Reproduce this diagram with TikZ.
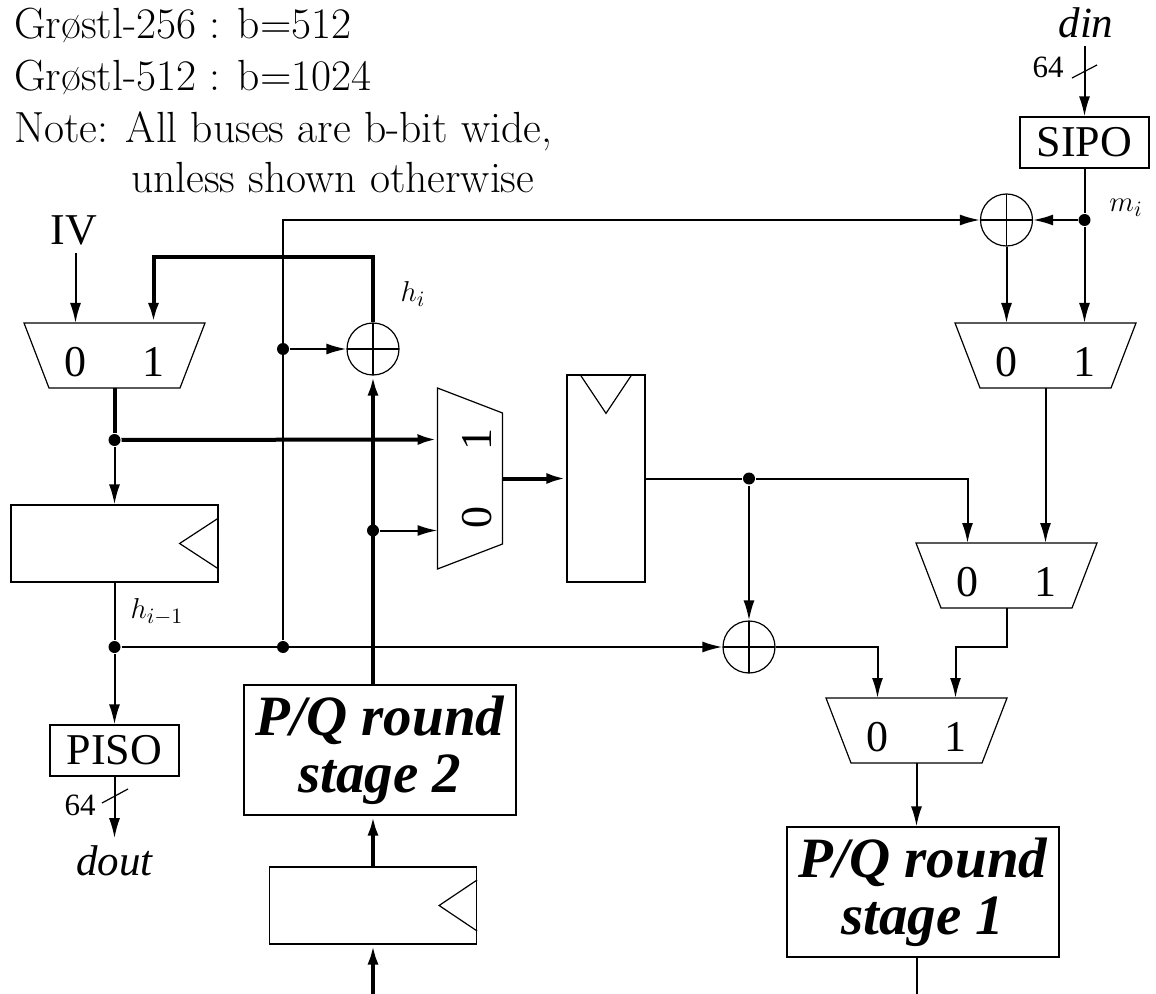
\documentclass[tikz,border=0pt]{standalone}
\usepackage{fontspec}
\newfontfamily\tms{Liberation Serif}
\usetikzlibrary{arrows.meta}
\tikzset{
  box/.style={draw, line width=0.6pt, inner sep=0pt},
  reg/.style={box, minimum width=103.5pt, minimum height=38.5pt},
  conv/.style={box, minimum width=64.5pt, minimum height=25.5pt, font=\tms\fontsize{22}{22}\selectfont},
  stagebox/.style={box, minimum width=136pt, minimum height=65pt, align=center,
    font=\tms\bfseries\itshape\fontsize{28.5}{28.5}\selectfont},
  xorgate/.style={circle, draw, line width=0.6pt, minimum size=26pt, inner sep=0pt,
    path picture={\draw[line width=0.6pt] (path picture bounding box.north) -- (path picture bounding box.south)
      (path picture bounding box.west) -- (path picture bounding box.east);}},
  dot/.style={circle, fill, inner sep=0pt, minimum size=6pt},
  wide/.style={line width=2pt},
  digit/.style={inner sep=0pt, font=\tms\fontsize{22}{22}\selectfont},
  port/.style={font=\tms\itshape\fontsize{21.5}{21.5}\selectfont},
  buswidth/.style={font=\tms\fontsize{15.5}{15.5}\selectfont},
  lbl/.style={font=\fontsize{15}{15}\selectfont},
  note/.style={anchor=base west, inner sep=0pt, font=\fontsize{21.8}{26}\selectfont},
  mux/.pic={
    \draw[line width=0.6pt] (-90.5,32.5) -- (90.5,32.5) -- (65.5,-32.5) -- (-65.5,-32.5) -- cycle;
    \node[digit, anchor=base] (-l0) at (-39,-21) {0};
    \node[digit, anchor=base] (-l1) at (39,-21) {1};
    \coordinate (-in0) at (-39,32.5);
    \coordinate (-in1) at (39,32.5);
    \coordinate (-out) at (0,-32.5);
  }
}
\begin{document}
\begin{tikzpicture}[x=0.5pt, y=0.5pt, line width=1pt, >={Latex[length=10pt,width=5.5pt]}]
\useasboundingbox (0,0) rectangle (1156,-994);

% notes
\node[note] (g256) at (13,-39) {Grøstl-256 : b=512};
\node[note] (g512) at (13,-91) {Grøstl-512 : b=1024};
\node[note] (note) at (13,-143) {Note: All buses are b-bit wide,};
\node[note] (note2) at (130,-193) {unless shown otherwise};

% inputs and outputs
\node[anchor=base, font=\tms\fontsize{22}{22}\selectfont] (iv) at (74,-245) {IV};
\node[port, anchor=base] (din) at (1086,-38) {din};
\node[port, anchor=base, inner sep=3pt] (dout) at (114.5,-875) {dout};
\node[buswidth, anchor=base] (w1) at (1048,-78) {64};
\node[buswidth, anchor=base] (w2) at (80,-815) {64};
\draw[line width=0.6pt] (1072,-78) -- (1097,-65);
\draw[line width=0.6pt] (102,-803) -- (128,-789);

% blocks
\node[conv] (sipo) at (1084.5,-142.5) {SIPO};
\node[conv] (piso) at (114.5,-750.5) {PISO};
\node[reg] (r1) at (114.5,-543.5) {};
\node[reg] (r2) at (373,-905.5) {};
\node[box, minimum width=39pt, minimum height=103.5pt] (r3) at (606,-478.5) {};
\node[stagebox] (s2) at (380,-750) {P/Q round\\stage 2};
\node[stagebox] (s1) at (923,-892) {P/Q round\\stage 1};
\draw[line width=0.6pt] (r1.east) ++(0,25.5) -- ++(-39,-25.5) -- ++(39,-25.5);
\draw[line width=0.6pt] (r2.east) ++(0,25.5) -- ++(-38,-25.5) -- ++(38,-25.5);
\draw[line width=0.6pt] (r3.north) ++(-26,0) -- ++(26,-39) -- ++(26,39);

\pic (m1) at (114.5,-355.5) {mux};
\pic (m2) at (1045.5,-355.5) {mux};
\pic (m3) at (1006.5,-575.5) {mux};
\pic (m4) at (916.5,-730.5) {mux};
\pic[rotate=90, transform shape] (m5) at (470,-478.5) {mux};

\node[xorgate] (x1) at (373,-349) {};
\node[xorgate] (x2) at (1006.5,-220) {};
\node[xorgate] (x3) at (749,-647) {};

% junctions
\coordinate (tl) at (283,-220);
\coordinate (fb) at (373,-257);
\coordinate (r2in) at (373,-994);
\coordinate (s1out) at (916.5,-994);
\node[dot] (d1) at (283,-349) {};
\node[dot] (d2) at (283,-647) {};
\node[dot] (d3) at (114.5,-440) {};
\node[dot] (d4) at (373,-530.5) {};
\node[dot] (d5) at (114.5,-647) {};
\node[dot] (d6) at (749,-478.5) {};
\node[dot] (dm) at (1084.5,-220) {};

% labels
\node[lbl] (hi) at (413,-294) {$h_i$};
\node[lbl] (mi) at (1126,-208) {$m_i$};
\node[lbl] (hprev) at (157,-612) {$h_{i-1}$};

% wiring
\draw[->] (iv.south -| m1-in0) -- (m1-in0);
\draw[->] (din.south -| sipo) -- (sipo.north);
\draw (sipo) -- (dm);
\draw[->] (dm) -- (x2);
\draw[->] (dm) -- (m2-in1);
\draw[->] (x2) -- (m2-in0);
\draw[->] (m2-out) -- (m3-in1);
\draw[->] (d2) -- (tl) -- (x2);
\draw[->] (d1) -- (x1);
\draw[wide, ->] (x1) -- (fb) -| (m1-in1);
\draw[wide] (m1-out) -- (d3);
\draw[wide, ->] (d3) -- (m5-in1);
\draw[->] (d3) -- (r1);
\draw (r1) -- (d5);
\draw[->] (d5) -- (piso);
\draw[->] (piso) -- (dout);
\draw[->] (d5) -- (x3);
\draw[wide, ->] (s2.north -| x1) -- (x1);
\draw[->] (d4) -- (d4 -| m5-in0);
\draw[wide, ->] (m5-out) -- (m5-out -| r3.west);
\draw[wide, ->] (r2.north) -- (r2.north |- s2.south);
\draw[wide, ->] (r2in) -- (r2.south);
\draw (r3) -- (d6);
\draw[->] (d6) -| (m3-in0);
\draw[->] (d6) -- (x3);
\draw[->] (x3) -| (m4-in0);
\draw[->] (m3-out) -- ++(0,-39) -| (m4-in1);
\draw[->] (m4-out) -- (m4-out |- s1.north);
\draw (s1.south -| m4-out) -- (s1out);
\end{tikzpicture}
\end{document}
